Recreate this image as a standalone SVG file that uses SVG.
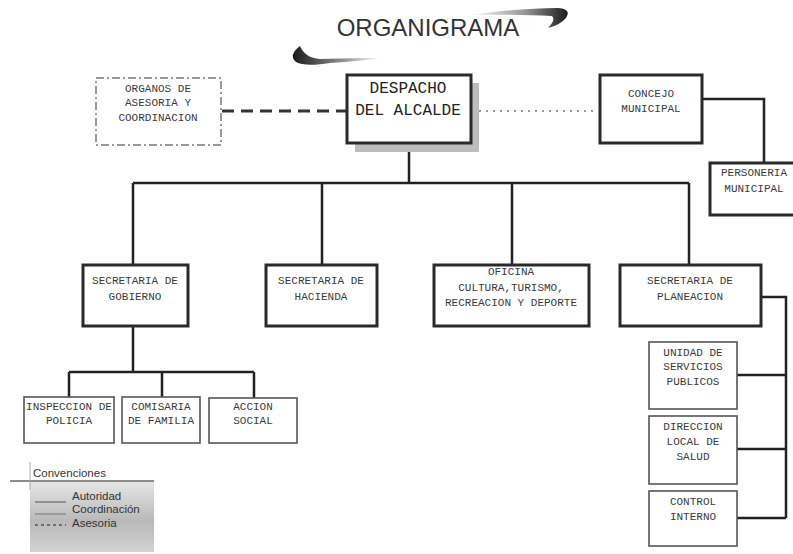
<svg xmlns="http://www.w3.org/2000/svg" width="793" height="554" viewBox="0 0 793 554">
<defs>
<style>
.box{fill:#fff;stroke:#2a2a2a;stroke-width:3}
.thin{fill:#fff;stroke:#555;stroke-width:1.6}
.t{font-family:"Liberation Mono","DejaVu Sans Mono",monospace;font-size:11px;fill:#3a3a3a;text-anchor:middle}
.big{font-family:"Liberation Mono","DejaVu Sans Mono",monospace;font-size:16px;fill:#222;text-anchor:middle}
.ln{fill:none;stroke:#222;stroke-width:2.5}
.lg{font-family:"Liberation Sans",Arial,sans-serif;font-size:11.5px;fill:#333}
</style>
<linearGradient id="sw1" x1="0" y1="0" x2="1" y2="0">
<stop offset="0" stop-color="#fff"/><stop offset="0.55" stop-color="#999"/><stop offset="1" stop-color="#1a1a1a"/>
</linearGradient>
<linearGradient id="sw2" x1="0" y1="0" x2="1" y2="0">
<stop offset="0" stop-color="#1a1a1a"/><stop offset="0.6" stop-color="#999"/><stop offset="1" stop-color="#fff"/>
</linearGradient>
<linearGradient id="lgbg" x1="0" y1="0" x2="0" y2="1">
<stop offset="0" stop-color="#e6e6e6"/><stop offset="0.55" stop-color="#b9b9b9"/><stop offset="1" stop-color="#d2d2d2"/>
</linearGradient>
</defs>
<rect width="793" height="554" fill="#fff"/>
<g id="title">
<path d="M470 15 Q520 8 558 8 Q572 9 566 18 Q560 25 548 28 Q556 20 552 16 Q520 14 470 15 Z" fill="url(#sw1)"/>
<path d="M300 46 Q288 55 296 62 Q305 67 330 63 Q360 61 382 58 Q350 58 320 59 Q305 58 300 46 Z" fill="url(#sw2)"/>
<text x="428" y="36" font-family="Liberation Sans, Arial, sans-serif" font-size="24" fill="#333" text-anchor="middle">ORGANIGRAMA</text>
</g>
<g id="connectors">
<path d="M222 111 H347" fill="none" stroke="#333" stroke-width="3" stroke-dasharray="12,7"/>
<path d="M472 111 H598" fill="none" stroke="#999" stroke-width="1.8" stroke-dasharray="2,5"/>
<path class="ln" d="M702 99 H764 V163"/>
<path class="ln" d="M409 143 V183 M133 183 H689 M133 183 V265 M322 183 V265 M512 183 V265 M689 183 V265"/>
<path class="ln" d="M133 326 V372 M69 372 H254 M69 372 V398 M162 372 V398 M254 372 V398"/>
<path class="ln" d="M761 297 H786 V518 M737 375 H786 M737 449 H786 M737 518 H786"/>
</g>
<g id="organos">
<rect x="96" y="78" width="125" height="67" fill="#fff" stroke="#777" stroke-width="1.5" stroke-dasharray="8,3,2,3"/>
<text class="t" x="158" y="92" fill="#666">ORGANOS DE</text>
<text class="t" x="158" y="106">ASESORIA Y</text>
<text class="t" x="158" y="121">COORDINACION</text>
</g>
<g id="despacho">
<rect x="355" y="83" width="124" height="69" fill="#bdbdbd"/>
<rect class="box" x="347" y="75" width="124" height="68"/>
<text class="big" x="408" y="93">DESPACHO</text>
<text class="big" x="408" y="115">DEL ALCALDE</text>
</g>
<g id="concejo">
<rect class="box" x="600" y="75" width="102" height="68"/>
<text class="t" x="651" y="97">CONCEJO</text>
<text class="t" x="651" y="112">MUNICIPAL</text>
</g>
<g id="personeria">
<rect class="box" x="710" y="163" width="86" height="52"/>
<text class="t" x="754" y="176">PERSONERIA</text>
<text class="t" x="754" y="192">MUNICIPAL</text>
</g>
<g id="gobierno">
<rect class="box" x="83" y="265" width="105" height="61"/>
<text class="t" x="135" y="284">SECRETARIA DE</text>
<text class="t" x="135" y="300">GOBIERNO</text>
</g>
<g id="hacienda">
<rect class="box" x="266" y="265" width="111" height="61"/>
<text class="t" x="321" y="284">SECRETARIA DE</text>
<text class="t" x="321" y="300">HACIENDA</text>
</g>
<g id="oficina">
<rect class="box" x="434" y="265" width="155" height="61"/>
<text class="t" x="511" y="275">OFICINA</text>
<text class="t" x="511" y="291">CULTURA,TURISMO,</text>
<text class="t" x="511" y="306">RECREACION Y DEPORTE</text>
</g>
<g id="planeacion">
<rect class="box" x="620" y="265" width="141" height="61"/>
<text class="t" x="690" y="284">SECRETARIA DE</text>
<text class="t" x="690" y="300">PLANEACION</text>
</g>
<g id="inspeccion">
<rect class="thin" x="24" y="397" width="90" height="46"/>
<text class="t" x="69" y="410">INSPECCION DE</text>
<text class="t" x="69" y="424">POLICIA</text>
</g>
<g id="comisaria">
<rect class="thin" x="122" y="397" width="78" height="46"/>
<text class="t" x="161" y="410">COMISARIA</text>
<text class="t" x="161" y="424">DE FAMILIA</text>
</g>
<g id="accion">
<rect class="thin" x="209" y="398" width="88" height="45"/>
<text class="t" x="253" y="410">ACCION</text>
<text class="t" x="253" y="424">SOCIAL</text>
</g>
<g id="unidad">
<rect class="thin" x="649" y="342" width="88" height="67"/>
<text class="t" x="693" y="356">UNIDAD DE</text>
<text class="t" x="693" y="370">SERVICIOS</text>
<text class="t" x="693" y="385">PUBLICOS</text>
</g>
<g id="direccion">
<rect class="thin" x="649" y="416" width="88" height="68"/>
<text class="t" x="693" y="430">DIRECCION</text>
<text class="t" x="693" y="445">LOCAL DE</text>
<text class="t" x="693" y="460">SALUD</text>
</g>
<g id="control">
<rect class="thin" x="649" y="491" width="88" height="55"/>
<text class="t" x="693" y="505">CONTROL</text>
<text class="t" x="693" y="520">INTERNO</text>
</g>
<g id="legend">
<rect x="30" y="482" width="124" height="70" fill="url(#lgbg)"/>
<path d="M10 481 H154" stroke="#666" stroke-width="1.5"/>
<path d="M30 462 V490" stroke="#aaa" stroke-width="1"/>
<text class="lg" x="33" y="477">Convenciones</text>
<path d="M35 502 H66" stroke="#555" stroke-width="1"/>
<text class="lg" x="72" y="500">Autoridad</text>
<path d="M35 514 H66" stroke="#777" stroke-width="1"/>
<text class="lg" x="72" y="513">Coordinación</text>
<path d="M35 525 H66" stroke="#555" stroke-width="1.5" stroke-dasharray="3,3"/>
<text class="lg" x="72" y="527">Asesoria</text>
</g>
</svg>
